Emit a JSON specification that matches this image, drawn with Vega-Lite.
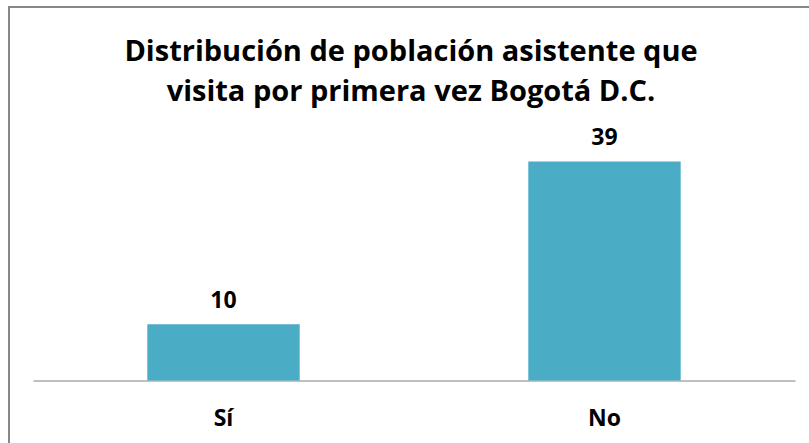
{
  "$schema": "https://vega.github.io/schema/vega-lite/v6.json",
  "width": 840,
  "height": 470,
  "autosize": {"type": "none"},
  "padding": {"left": 9, "top": 7, "right": 0, "bottom": 0},
  "background": "white",
  "config": {
    "view": {"stroke": "#878787", "strokeWidth": 2},
    "font": "Open Sans"
  },
  "title": {
    "text": ["Distribución de población asistente que", "visita por primera vez Bogotá D.C."],
    "anchor": "start",
    "dx": 402,
    "align": "center",
    "font": "Open Sans",
    "fontSize": 29,
    "fontWeight": "bold",
    "color": "#000000",
    "lineHeight": 40,
    "offset": -100
  },
  "data": {
    "values": [
      {"respuesta": "Sí", "valor": 10},
      {"respuesta": "No", "valor": 39}
    ]
  },
  "encoding": {
    "x": {
      "field": "respuesta",
      "type": "nominal",
      "sort": ["Sí", "No"],
      "scale": {"range": [24, 786], "paddingInner": 0.6, "paddingOuter": 0.3},
      "axis": {
        "title": null,
        "offset": -96.5,
        "ticks": false,
        "domainColor": "#c0c0c0",
        "domainWidth": 2,
        "labelAngle": 0,
        "labelFont": "Open Sans",
        "labelFontSize": 23,
        "labelFontWeight": "bold",
        "labelColor": "#000000",
        "labelBaseline": "middle",
        "labelPadding": 38
      }
    },
    "y": {
      "field": "valor",
      "type": "quantitative",
      "scale": {"domain": [0, 66.5], "range": [373.5, 0], "nice": false, "zero": true},
      "axis": null
    }
  },
  "layer": [
    {"mark": {"type": "bar", "color": "#4BACC6"}},
    {
      "mark": {"type": "text", "baseline": "alphabetic", "dy": -16, "font": "Open Sans", "fontSize": 23, "fontWeight": "bold", "color": "#000000"},
      "encoding": {"text": {"field": "valor", "type": "quantitative"}}
    }
  ]
}
